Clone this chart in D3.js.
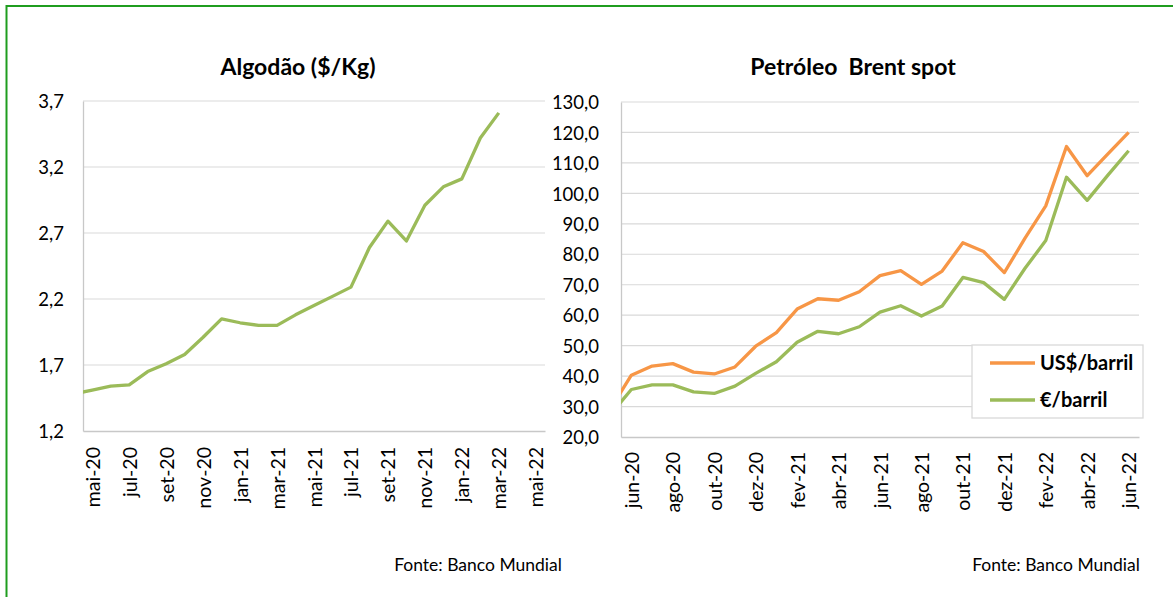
<!DOCTYPE html>
<html>
<head>
<meta charset="utf-8">
<script src="https://cdn.jsdelivr.net/npm/d3@7/dist/d3.min.js"></script>
<style>
  body { margin: 0; background: #fff; }
  svg { display: block; }
  text { font-family: Lato, "Noto Sans", sans-serif; fill: #000; }
</style>
</head>
<body>
<div id="chart"></div>
<script>
// Algodão ($/Kg): the first month sits just left of the axis and gets clipped
const cottonMonths = ['abr-20', 'mai-20', 'jun-20', 'jul-20', 'ago-20', 'set-20', 'out-20', 'nov-20', 'dez-20',
  'jan-21', 'fev-21', 'mar-21', 'abr-21', 'mai-21', 'jun-21', 'jul-21', 'ago-21', 'set-21', 'out-21', 'nov-21', 'dez-21',
  'jan-22', 'fev-22', 'mar-22', 'abr-22', 'mai-22'];
const cottonValues = [1.48, 1.51, 1.54, 1.55, 1.65, 1.71, 1.78, 1.91, 2.05, 2.02, 2.00, 2.00,
  2.08, 2.15, 2.22, 2.29, 2.59, 2.79, 2.64, 2.91, 3.05, 3.11, 3.42, 3.61];
const cottonTicks = [1.2, 1.7, 2.2, 2.7, 3.2, 3.7];

// Petróleo Brent spot
const brentMonths = ['mai-20', 'jun-20', 'jul-20', 'ago-20', 'set-20', 'out-20', 'nov-20', 'dez-20',
  'jan-21', 'fev-21', 'mar-21', 'abr-21', 'mai-21', 'jun-21', 'jul-21', 'ago-21', 'set-21', 'out-21', 'nov-21', 'dez-21',
  'jan-22', 'fev-22', 'mar-22', 'abr-22', 'mai-22', 'jun-22'];
const brentUsd = [29.3, 40.3, 43.3, 44.1, 41.3, 40.7, 43.0, 49.8, 54.3, 62.0, 65.4, 64.9, 67.7,
  73.0, 74.6, 70.1, 74.5, 83.8, 80.9, 74.0, 85.3, 95.9, 115.4, 105.8, 113.0, 120.0];
const brentEur = [27.5, 35.6, 37.1, 37.1, 34.8, 34.3, 36.7, 40.9, 44.7, 51.1, 54.7, 53.9, 56.2,
  61.0, 63.1, 59.7, 63.0, 72.4, 70.7, 65.2, 75.4, 84.5, 105.3, 97.7, 106.0, 114.0];
const brentTicks = [20, 30, 40, 50, 60, 70, 80, 90, 100, 110, 120, 130];
const brentSeries = [
  { name: 'US$/barril', values: brentUsd, color: '#f79646' },
  { name: '€/barril', values: brentEur, color: '#9bbb59' }
];

const W = 1173, H = 597;
const pt = d3.formatLocale({ decimal: ',', thousands: '.', grouping: [3], currency: ['', ''] });
const fmt1 = pt.format('.1f');

const svg = d3.select('#chart').append('svg')
  .attr('width', W)
  .attr('height', H);

// green frame, runs off the right and bottom edges
svg.append('rect')
  .attr('x', 6.5).attr('y', 6)
  .attr('width', W + 20).attr('height', H + 20)
  .attr('fill', 'none')
  .attr('stroke', '#1f9d1f')
  .attr('stroke-width', 2);

function drawPanel(opts) {
  const { left, right, top, bottom, months, yDomain, ticks, series, title, titleX, id } = opts;

  const x = d3.scaleLinear()
    .domain([0.5, months.length - 0.5])
    .range([left, right]);
  const y = d3.scaleLinear()
    .domain(yDomain)
    .range([bottom, top]);

  const g = svg.append('g');

  g.append('clipPath').attr('id', id)
    .append('rect')
    .attr('x', left).attr('y', top - 5)
    .attr('width', right - left).attr('height', bottom - top + 10);

  // gridlines
  g.selectAll('.grid')
    .data(ticks.slice(1))
    .enter()
    .append('line')
    .attr('x1', left).attr('x2', right)
    .attr('y1', d => y(d)).attr('y2', d => y(d))
    .attr('stroke', '#d9d9d9')
    .attr('stroke-width', 1.2);

  // y axis
  const yAxis = g.append('g')
    .attr('transform', `translate(${left},0)`)
    .call(d3.axisLeft(y).tickValues(ticks).tickSize(0).tickPadding(opts.yPad).tickFormat(opts.yFormat));
  yAxis.select('.domain').attr('stroke', '#c8c8c8').attr('stroke-width', 1.3);
  yAxis.selectAll('text').style('font-size', opts.tickSize + 'px').attr('dy', '0.36em');

  // x axis, rotated month labels
  const xTicks = d3.range(1, months.length, 2);
  const xAxis = g.append('g')
    .attr('transform', `translate(0,${bottom})`)
    .call(d3.axisBottom(x).tickValues(xTicks).tickSize(0).tickFormat(i => months[i]));
  xAxis.select('.domain').attr('stroke', '#c8c8c8').attr('stroke-width', 1.3);
  xAxis.selectAll('text')
    .style('font-size', opts.xLabelSize + 'px')
    .attr('text-anchor', 'end')
    .attr('transform', 'rotate(-90)')
    .attr('x', -opts.xPad)
    .attr('y', 0)
    .attr('dy', '0.36em');

  const line = d3.line()
    .x((d, i) => x(i))
    .y(d => y(d));

  g.append('g')
    .attr('clip-path', `url(#${id})`)
    .selectAll('path')
    .data(series)
    .enter()
    .append('path')
    .attr('d', d => line(d.values))
    .attr('fill', 'none')
    .attr('stroke', d => d.color)
    .attr('stroke-width', 3.3)
    .attr('stroke-linejoin', 'round');

  g.append('text')
    .attr('x', titleX)
    .attr('y', 75)
    .attr('text-anchor', 'middle')
    .style('font-size', '23px')
    .style('font-weight', 'bold')
    .style('white-space', 'pre')
    .text(title);

  return { x, y };
}

drawPanel({
  id: 'clipL', left: 83, right: 545, top: 101, bottom: 431,
  months: cottonMonths, yDomain: [1.2, 3.7], ticks: cottonTicks,
  series: [{ name: 'Algodão', values: cottonValues, color: '#9bbb59' }],
  title: 'Algodão ($/Kg)', titleX: 298,
  yPad: 19, xPad: 16, tickSize: 18.5, xLabelSize: 19.5,
  yFormat: d => pt.format('.1f')(d)
});

drawPanel({
  id: 'clipR', left: 621, right: 1139, top: 102, bottom: 437,
  months: brentMonths, yDomain: [20, 130], ticks: brentTicks,
  series: brentSeries,
  title: 'Petróleo\u00a0 Brent spot', titleX: 853,
  yPad: 22, xPad: 15, tickSize: 18.5, xLabelSize: 19.5,
  yFormat: fmt1
});

// legend
const legend = svg.append('g').attr('transform', 'translate(972,345)');
legend.append('rect')
  .attr('width', 171).attr('height', 73)
  .attr('fill', '#fff')
  .attr('stroke', '#d9d9d9')
  .attr('stroke-width', 1.3);
const item = legend.selectAll('.item')
  .data(brentSeries)
  .enter()
  .append('g')
  .attr('transform', (d, i) => `translate(0,${18 + i * 37})`);
item.append('line')
  .attr('x1', 18).attr('x2', 63)
  .attr('stroke', d => d.color)
  .attr('stroke-width', 3.3);
item.append('text')
  .attr('x', 68)
  .attr('dy', '0.36em')
  .style('font-size', '20px')
  .style('font-weight', 'bold')
  .text(d => d.name);

// sources
svg.selectAll('.src')
  .data([478, 1056])
  .enter()
  .append('text')
  .attr('x', d => d)
  .attr('y', 571)
  .attr('text-anchor', 'middle')
  .style('font-size', '17.5px')
  .text('Fonte: Banco Mundial');
</script>
</body>
</html>
